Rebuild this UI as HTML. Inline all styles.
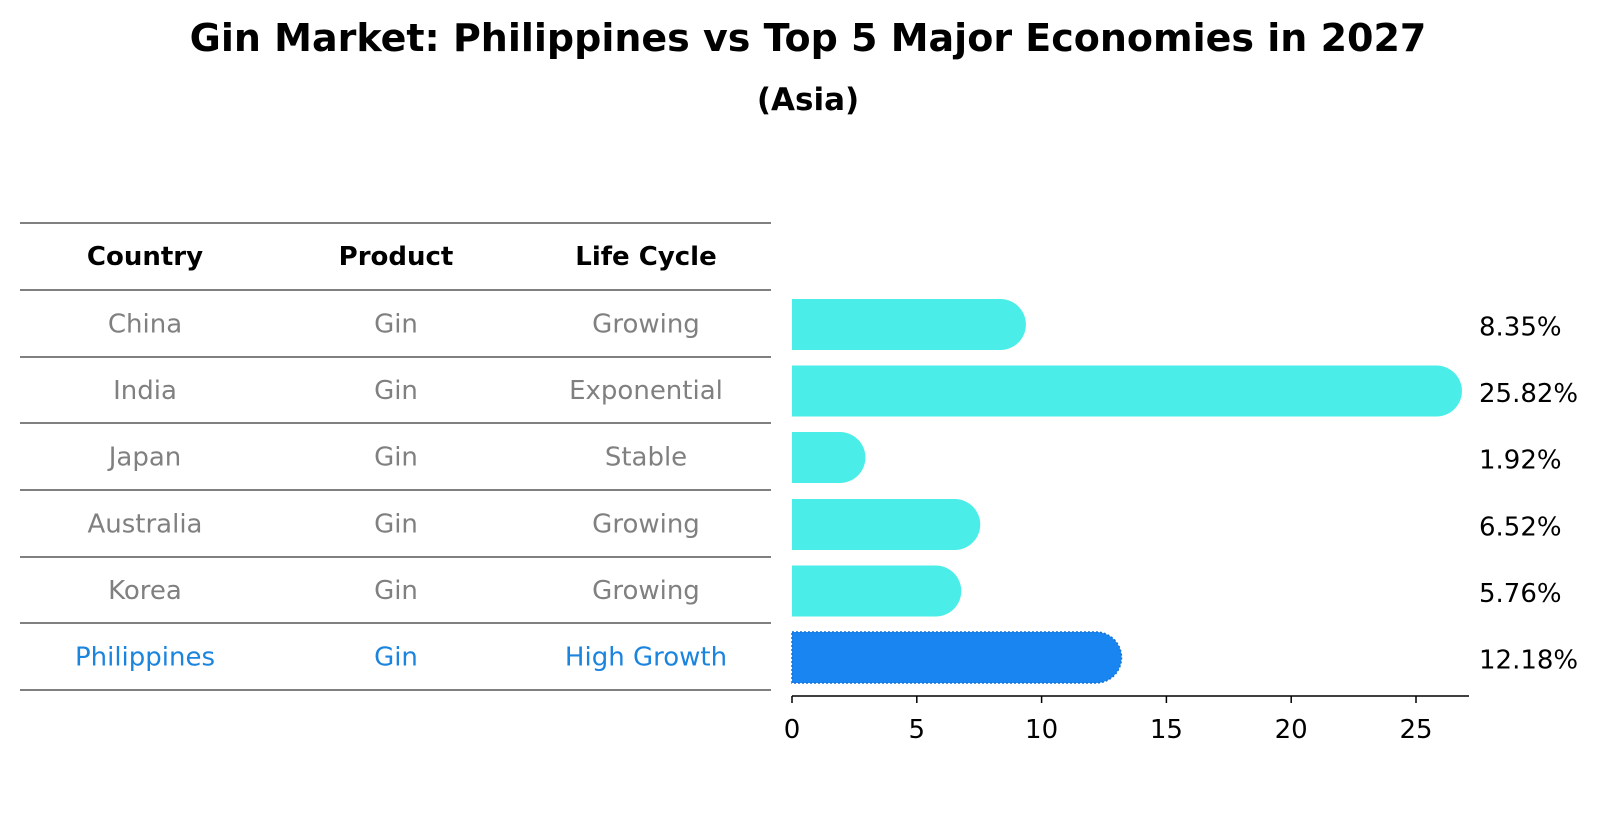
<!DOCTYPE html>
<html><head><meta charset="utf-8"><style>
body{margin:0;background:#fff;}
svg{display:block;font-family:"DejaVu Sans","Liberation Sans",sans-serif;}
</style></head><body>
<svg width="1604" height="823" viewBox="0 0 1604 823">
<text x="808" y="51" text-anchor="middle" font-size="38" font-weight="bold">Gin Market: Philippines vs Top 5 Major Economies in 2027</text>
<text x="808" y="110" text-anchor="middle" font-size="31" font-weight="bold">(Asia)</text>
<g id="table"></g>
<g id="bars"></g>
</svg>
<script>
const countries=["China","India","Japan","Australia","Korea","Philippines"];
const products=["Gin","Gin","Gin","Gin","Gin","Gin"];
const lifecycles=["Growing","Exponential","Stable","Growing","Growing","High Growth"];
const values=[8.35,25.82,1.92,6.52,5.76,12.18];
const valueLabels=["8.35%","25.82%","1.92%","6.52%","5.76%","12.18%"];
const ticks=[0,5,10,15,20,25];
const highlight="Philippines";

const NS="http://www.w3.org/2000/svg";
function mk(tag,attrs,parent){const e=document.createElementNS(NS,tag);for(const k in attrs)e.setAttribute(k,attrs[k]);parent.appendChild(e);return e;}
const table=document.getElementById('table');
const bars=document.getElementById('bars');
const lineYs=[223,290,357,423,490,557,623,690];
const colX=[145,396,646];
function xs(v){return 792+v*24.96;}

lineYs.forEach((y,i)=>{const l=mk('line',{x1:20,x2:771,y1:y,y2:y,stroke:'#000','stroke-width':1},table);

});
["Country","Product","Life Cycle"].forEach((h,j)=>{const t=mk('text',{x:colX[j],y:265,'text-anchor':'middle','font-size':26,'font-weight':'bold'},table);t.textContent=h;

});
countries.forEach((c,i)=>{
 const col=c===highlight?'#1a84de':'#808080';
 const y=(lineYs[i+1]+lineYs[i+2])/2+9;
 [c,products[i],lifecycles[i]].forEach((s,j)=>{const t=mk('text',{x:colX[j],y:y,'text-anchor':'middle','font-size':26,fill:col},table);t.textContent=s;
 
 });
});

const r=25.5;
values.forEach((v,i)=>{
 const cy=(lineYs[i+1]+lineYs[i+2])/2+1, x0=xs(0), x1=xs(v);
 const hi=countries[i]===highlight;
 const d=`M${x0},${cy-r} L${x1},${cy-r} A${r},${r} 0 0 1 ${x1},${cy+r} L${x0},${cy+r} Z`;
 const p=mk('path',{d:d,fill:hi?'#1985f0':'#4aede8',stroke:hi?'#1573d8':'none','stroke-width':hi?1.5:0,'stroke-dasharray':hi?'2 2':''},bars);
 
 
 const t=mk('text',{x:1479,y:cy+11,'font-size':26,fill:'#000'},bars);t.textContent=valueLabels[i];
 
 
});
const ax=mk('line',{x1:792,x2:1469,y1:696,y2:696,stroke:'#000','stroke-width':1.5},bars);


ticks.forEach(tv=>{
 const tl=mk('line',{x1:xs(tv),x2:xs(tv),y1:696,y2:703,stroke:'#000','stroke-width':1.5},bars);
 
 
 const t=mk('text',{x:xs(tv),y:738,'text-anchor':'middle','font-size':26},bars);t.textContent=tv;
 
 
});
</script>
</body></html>
